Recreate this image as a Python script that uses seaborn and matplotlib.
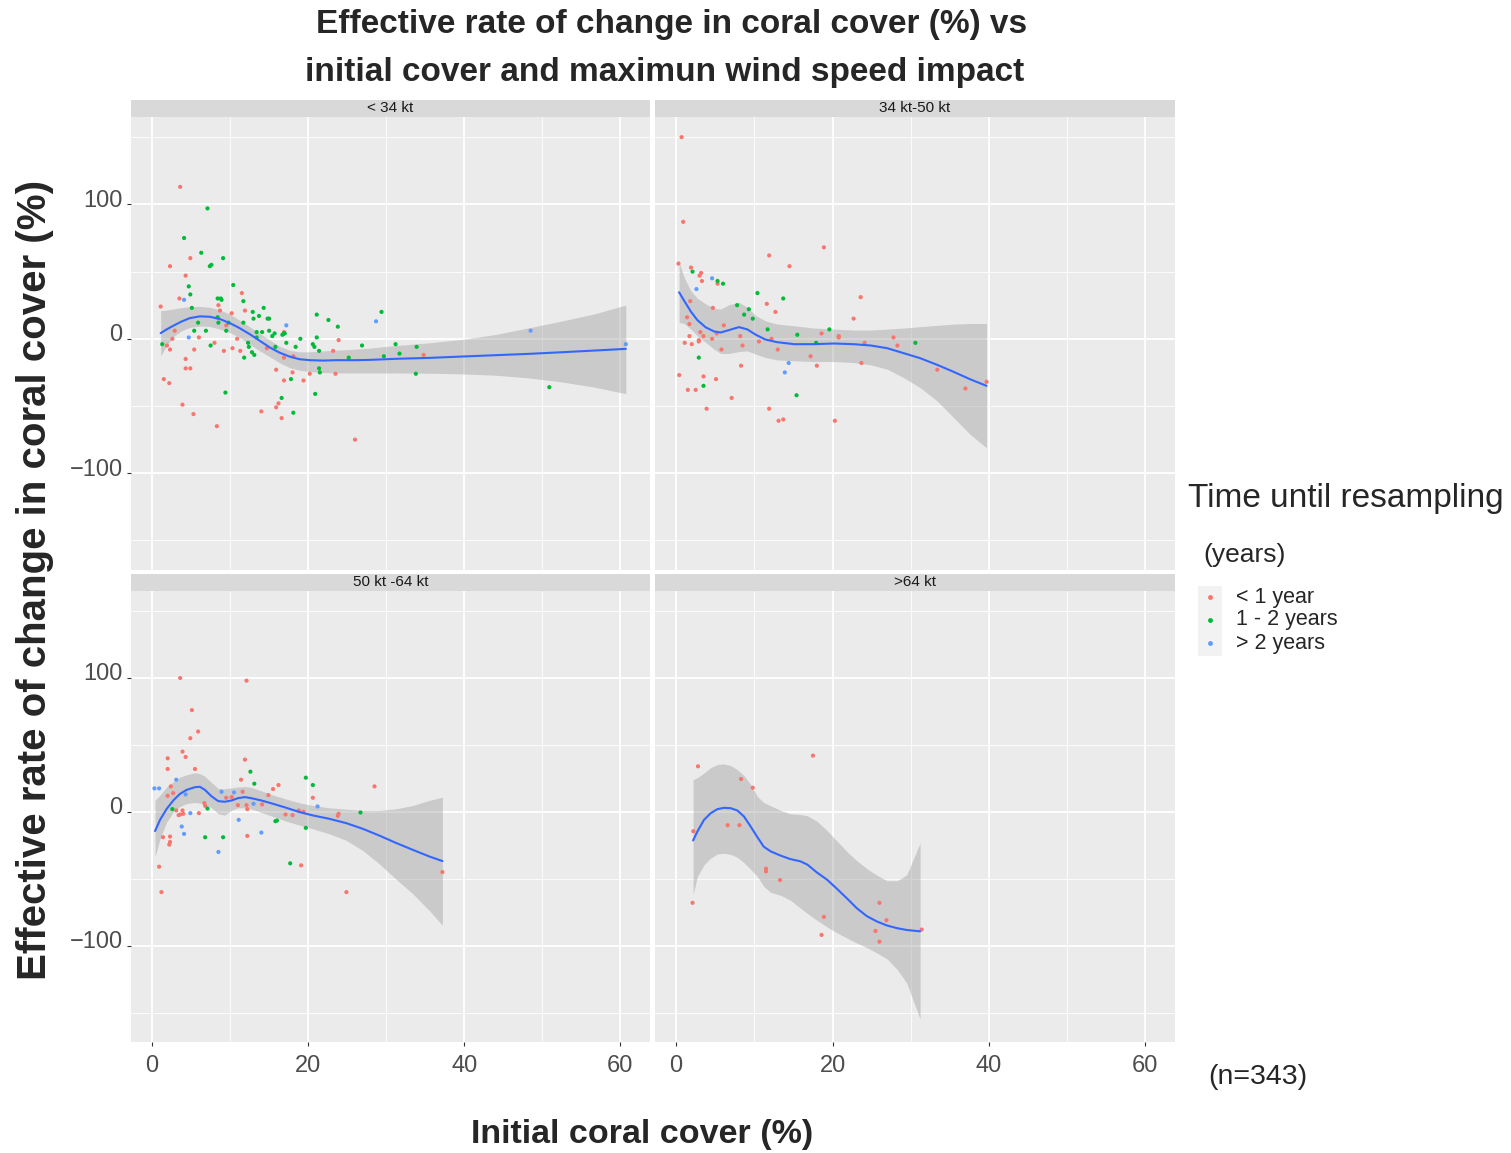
import numpy as np
import pandas as pd
import matplotlib
matplotlib.use("Agg")
import matplotlib.pyplot as plt
import matplotlib.transforms as mtransforms
import seaborn as sns
from matplotlib.lines import Line2D
from matplotlib.patches import Rectangle

W, H = 1511, 1153

# ---------------- data ----------------
PANELS = ["< 34 kt", "34 kt-50 kt", "50 kt -64 kt", ">64 kt"]
GROUPS = ["< 1 year", "1 - 2 years", "> 2 years"]
COLORS = ["#F8766D", "#00BA38", "#619CFF"]

# Panel < 34 kt
a_lt1_x = [3.6, 2.3, 4.9, 4.3, 3.5, 1.1, 2.9, 2.6, 1.9, 2.3, 1.5, 2.2, 3.9, 5.3, 4.3, 4.3, 4.9, 5.4, 6.0, 8.0,
           8.3, 8.5, 8.7, 9.2, 9.5, 10.2, 10.3, 10.9, 11.3, 11.5, 11.9, 14.0, 14.7, 15.9, 15.9, 16.2, 16.6, 16.9,
           16.9, 16.9, 18.0, 18.1, 19.4, 20.2, 23.9, 23.5, 26.0, 34.8, 23.2]
a_lt1_y = [113, 54, 60, 47, 30, 24, 6, 0, -5, -8, -30, -33, -49, -56, -15, -22, -22, -8, 1, -3,
           -65, 25, 21, -9, 10, 19, -7, 0, -9, 34, 21, -54, -7, -23, -51, -48, -59, -31,
           -14, 5, -25, -13, -31, -26, -1, -26, -75, -12, -9]
a_12_x = [7.1, 4.1, 6.3, 7.4, 7.6, 9.1, 4.7, 4.9, 5.1, 5.9, 5.4, 6.9, 7.5, 8.4, 8.8, 8.9, 8.4, 8.5, 9.5, 9.8,
          10.4, 11.7, 11.7, 12.9, 13.0, 13.7, 14.3, 14.8, 15.0, 13.4, 14.1, 15.0, 15.4, 15.7, 16.7, 16.9, 17.0,
          17.2, 13.4, 12.3, 12.4, 12.8, 13.1, 11.8, 9.4, 15.8, 16.6, 17.8, 18.1, 18.4, 19.0, 20.6, 20.8, 21.1,
          21.1, 21.4, 21.4, 21.5, 20.9, 22.6, 23.8, 25.2, 26.9, 29.4, 29.7, 31.2, 31.7, 33.9, 33.8, 50.9, 1.3]
a_12_y = [97, 75, 64, 54, 55, 60, 39, 33, 23, 12, 6, 6, -5, 30, 30, 29, 16, 12, 6, 12,
          40, 28, 12, 20, 15, 17, 23, 15, 15, 5, 5, 6, 2, 4, 3, 4, 4,
          -3, 1, -3, -6, -10, -12, -14, -40, -6, -44, -30, -55, -6, 0, -4, -6, 18,
          1, -9, -22, -25, -41, 14, 9, -14, -5, 20, -13, -4, -11, -6, -26, -36, -4]
a_gt2_x = [4.1, 4.7, 17.2, 28.7, 48.5, 60.7]
a_gt2_y = [29, 1, 10, 13, 6, -4]
a_fit_x = [1.1, 1.87, 2.72, 3.79, 4.85, 6.13, 7.4, 8.68, 9.96, 11.2, 12.5, 13.8, 15.1, 16.3, 17.6, 18.9,
           20.2, 21.9, 23.6, 26.1, 27.8, 31.2, 35.5, 39.7, 44.0, 48.3, 52.5, 56.8, 60.7]
a_fit_y = [4.2, 7, 9.7, 12.9, 15.4, 16.7, 16.4, 14.7, 11.7, 8, 3.5, -1.5, -6.5, -10.2, -13.2, -15.2,
           -15.9, -16.2, -15.9, -15.9, -15.7, -14.9, -14.2, -13.2, -12.2, -11.2, -10.0, -8.7, -7.5]
a_fit_hi = [20.9, 21.4, 22.2, 23.2, 23.9, 24.1, 23.4, 21.4, 18.4, 13.9, 9, 4, -1, -5.5, -8.5, -9.7,
            -9.7, -9, -8.5, -7.7, -7, -5.0, -3.0, -0.5, 3.2, 8.2, 13.2, 18.7, 25.1]
a_fit_lo = [-12.7, -5.2, 1.5, 6, 8.5, 9.5, 9.2, 7.2, 4.7, 1, -4, -9, -13.4, -17.7, -21.4, -23.4,
            -24.4, -25.1, -25.4, -25.4, -25.4, -25.4, -25.6, -26.1, -27.1, -29.1, -32.1, -36.1, -40.8]

# Panel 34 kt-50 kt
b_lt1_x = [0.7, 0.9, 0.3, 1.9, 3.2, 3.0, 3.3, 5.3, 1.8, 4.7, 1.4, 1.7, 3.1, 3.5, 5.2, 4.6, 6.1, 1.1, 1.7, 2.0,
           2.9, 2.9, 5.8, 0.4, 1.5, 2.5, 3.5, 5.1, 3.9, 7.1, 8.2, 8.5, 8.3, 11.9, 14.5, 11.6, 12.7, 13.0,
           11.9, 13.1, 13.7, 10.6, 12.2, 18.9, 18.6, 17.2, 18.0, 20.3, 20.8, 20.8, 22.7, 23.6, 24.1, 23.7,
           27.8, 28.3, 33.4, 37.0, 39.7]
b_lt1_y = [150, 87, 56, 53, 49, 47, 43, 41, 28, 23, 16, 11, 5, 2, 4, 0, 10, -3, 2, -4,
           -1, -2, -8, -27, -38, -38, -28, -30, -52, -44, 2, -5, -20, 62, 54, 26, 20, -8,
           -52, -61, -60, -2, 0, 68, 4, -13, -20, -61, 2, 1, 15, 31, -3, -18,
           1, -5, -23, -37, -32]
b_12_x = [2.1, 5.3, 6.0, 7.8, 8.7, 9.3, 9.8, 10.4, 13.7, 11.7, 15.5, 19.6, 17.9, 30.6, 2.9, 3.5, 15.4]
b_12_y = [50, 43, 41, 25, 18, 22, 15, 34, 30, 7, 3, 7, -3, -3, -14, -35, -42]
b_gt2_x = [2.6, 4.6, 14.4, 13.9]
b_gt2_y = [37, 45, -18, -25]
b_fit_x = [0.38, 1.02, 1.87, 2.72, 3.79, 4.85, 5.7, 6.77, 8.04, 9.1, 10.2, 11.4, 12.9, 15.1, 17.6, 20.2,
           22.7, 24.9, 27.0, 29.1, 31.2, 33.4, 35.5, 37.6, 39.7]
b_fit_y = [34.6, 28.4, 20.4, 13.9, 8.5, 5.5, 4.7, 6.5, 8.7, 7, 3, -0.5, -2.5, -4, -4, -3.5,
           -4, -5, -7, -10.7, -14.4, -19.4, -24.6, -30.1, -35]
b_fit_hi = [57, 45.8, 35.8, 30.1, 25.9, 22.6, 22.1, 25.4, 27.1, 23.4, 17.2, 13.4, 11, 9.7, 8, 7.2,
            6.5, 6.5, 7.2, 8, 9, 10, 10.9, 11.4, 11.4]
b_fit_lo = [12.2, 11.4, 7.2, 2.2, -2.7, -7.7, -10.9, -10.9, -9.5, -9, -11.4, -13.9, -15.7, -16.4, -16.9,
            -16.9, -17.7, -19.4, -22.6, -28.9, -36.3, -46.3, -58.7, -71.1, -81.1]

# Panel 50 kt -64 kt
c_lt1_x = [3.6, 12.1, 5.1, 5.9, 4.9, 3.9, 4.3, 2.0, 2.0, 5.5, 2.4, 2.7, 2.0, 3.1, 3.4, 3.6, 3.9, 4.0, 6.0,
           6.7, 6.8, 1.4, 2.3, 2.3, 2.2, 0.9, 1.2, 11.9, 11.4, 11.6, 9.5, 10.2, 11.0, 12.1, 12.2, 12.2,
           14.1, 14.9, 15.5, 16.2, 17.1, 18.0, 18.8, 19.4, 20.6, 23.9, 23.8, 28.5, 24.9, 19.1, 37.2]
c_lt1_y = [100, 98, 76, 60, 55, 45, 41, 40, 32, 32, 19, 14, 12, 1, -2.5, -2, 1, -1.5, -1,
           6.5, 4.5, -19, -18.5, -22.5, -24.5, -41, -60, 39, 24, 15, 10.5, 11, 5, 5, 2, -18,
           5.5, 12.5, 17, 20, -2, -2.5, 1, 0, 10.5, -1.5, -3, 19, -60, -40, -45]
c_12_x = [2.6, 7.1, 6.8, 9.1, 12.6, 13.1, 15.8, 16.0, 19.7, 20.6, 19.7, 17.7, 26.7]
c_12_y = [2, 2.5, -19, -19, 30, 21, -7, -6.5, 25.5, 20, -12, -38.5, -0.5]
c_gt2_x = [0.3, 0.9, 3.1, 4.3, 4.9, 3.8, 4.1, 8.9, 10.5, 11.1, 13.0, 14.0, 8.5, 21.2]
c_gt2_y = [17.5, 17.5, 24, 13, -1, -11, -16.5, 15, 14.5, -6, 6, -15.5, -30, 4]
c_fit_x = [0.38, 1.02, 1.87, 2.72, 3.57, 4.43, 5.49, 6.13, 6.77, 7.6, 8.47, 9.3, 10.2, 11.0, 11.9, 12.7,
           14.0, 15.5, 17.2, 18.9, 20.6, 22.7, 24.9, 27.0, 29.1, 31.2, 33.4, 35.5, 37.2]
c_fit_y = [-14.4, -6, 2.2, 8.5, 13.4, 16.4, 18.4, 18.7, 16.4, 11.7, 8, 7.5, 8.5, 10.2, 11, 10.2,
           8.5, 6, 3, -0.2, -2.7, -5.2, -8.5, -12.7, -17.7, -23.1, -28.4, -33.3, -36.8]
c_fit_hi = [8.5, 12.5, 18.5, 22.5, 25.9, 27.7, 29.2, 28.5, 26.5, 22, 17.5, 17.2, 17.9, 18.5, 18.9, 18.2,
            15.7, 12.5, 9.5, 6.7, 4.7, 3, 2, 1, 1, 2.2, 4.7, 8.5, 10.9]
c_fit_lo = [-33.8, -20, -7.7, -0.2, 4, 6.2, 7, 6.5, 5.8, 3.2, -1.5, -2.5, 1.2, 3, 3, 2.2,
            -0.5, -3.5, -7, -10, -12.7, -16.4, -21.4, -28.9, -38.8, -50, -61.2, -73.6, -84.8]

# Panel >64 kt
d_lt1_x = [2.8, 2.2, 2.1, 6.6, 8.1, 8.3, 9.8, 11.5, 11.5, 13.3, 17.5, 18.9, 18.6, 25.5, 26.0, 26.0, 26.9, 31.4]
d_lt1_y = [34, -14.5, -68, -10, -10, 24.5, 18, -42.5, -44.5, -51, 42, -78.5, -92, -89, -68, -97, -81, -88]
d_fit_x = [2.17, 2.72, 3.57, 4.43, 5.28, 6.13, 6.98, 7.83, 8.68, 9.53, 10.4, 11.2, 12.1, 13.4, 14.6, 15.9,
           16.8, 18.0, 19.3, 20.6, 21.9, 23.1, 24.4, 25.7, 27.0, 28.3, 29.5, 31.2]
d_fit_y = [-21.4, -14.7, -6, -1, 2, 3, 2.7, 1, -3.5, -11, -19, -26, -29.6, -32.8, -35.3, -37,
           -39.5, -45.3, -50.7, -57.7, -65, -72, -78, -82, -85, -87, -88.3, -89.3]
d_fit_hi = [24, 25.5, 29, 33, 35.4, 35.8, 34.5, 31.5, 27, 20.5, 11.4, 7, 4.5, 1, -1.5, -2,
            -3, -7, -14, -22, -30, -36.5, -42.5, -47.5, -51.5, -51.5, -47, -23.4]
d_fit_lo = [-62, -48.3, -39.6, -34.5, -31.5, -31, -31.8, -34, -38, -43, -48.3, -55.7, -60.2, -62.5, -66,
            -72, -76, -81, -86, -90.5, -94.5, -98, -101.5, -105.5, -110, -118, -128, -155]

X_TICKS = [0, 20, 40, 60]
Y_TICKS = [-100, 0, 100]
TITLE_1 = "Effective rate of change in coral cover (%) vs"
TITLE_2 = "initial cover and maximun wind speed impact"
X_LABEL = "Initial coral cover (%)"
Y_LABEL = "Effective rate of change in coral cover (%)"
LEGEND_TITLE_1 = "Time until resampling"
LEGEND_TITLE_2 = "(years)"
N_NOTE = "(n=343)"

# ---------------- assemble tables ----------------
def make_points(pairs):
    frames = []
    for g, (xs, ys) in zip(GROUPS, pairs):
        if xs:
            frames.append(pd.DataFrame({"x": xs, "y": ys, "group": g}))
    return pd.concat(frames, ignore_index=True)

points = [
    make_points([(a_lt1_x, a_lt1_y), (a_12_x, a_12_y), (a_gt2_x, a_gt2_y)]),
    make_points([(b_lt1_x, b_lt1_y), (b_12_x, b_12_y), (b_gt2_x, b_gt2_y)]),
    make_points([(c_lt1_x, c_lt1_y), (c_12_x, c_12_y), (c_gt2_x, c_gt2_y)]),
    make_points([(d_lt1_x, d_lt1_y), ([], []), ([], [])]),
]
fits = [
    pd.DataFrame({"x": a_fit_x, "fit": a_fit_y, "lo": a_fit_lo, "hi": a_fit_hi}),
    pd.DataFrame({"x": b_fit_x, "fit": b_fit_y, "lo": b_fit_lo, "hi": b_fit_hi}),
    pd.DataFrame({"x": c_fit_x, "fit": c_fit_y, "lo": c_fit_lo, "hi": c_fit_hi}),
    pd.DataFrame({"x": d_fit_x, "fit": d_fit_y, "lo": d_fit_lo, "hi": d_fit_hi}),
]

# ---------------- figure ----------------
sns.set_theme(style="white")
plt.rcParams['font.family'] = ['Liberation Sans', 'DejaVu Sans']
fig = plt.figure(figsize=(W / 100, H / 100), dpi=100)
fig.patch.set_facecolor("white")

def rect(l, t, r, b):
    return [l / W, 1 - b / H, (r - l) / W, (b - t) / H]

plot_boxes = [(131, 117, 650, 570), (655, 117, 1175, 570),
              (131, 591, 650, 1042), (655, 591, 1175, 1042)]
strip_boxes = [(131, 100, 650, 117), (655, 100, 1175, 117),
               (131, 574, 650, 591), (655, 574, 1175, 591)]

palette = dict(zip(GROUPS, COLORS))
ylab_offset = mtransforms.ScaledTranslation(0, 6 / 100, fig.dpi_scale_trans)
for i in range(4):
    ax = fig.add_axes(rect(*plot_boxes[i]))
    ax.set_facecolor("#EBEBEB")
    ax.set_xlim(-2.7, 63.8)
    ax.set_ylim(-172, 165)
    for xv in [10, 30, 50]:
        ax.axvline(xv, color="white", lw=0.6, zorder=0)
    for yv in [-150, -50, 50, 150]:
        ax.axhline(yv, color="white", lw=0.6, zorder=0)
    for xv in X_TICKS:
        ax.axvline(xv, color="white", lw=1.3, zorder=0)
    for yv in Y_TICKS:
        ax.axhline(yv, color="white", lw=1.3, zorder=0)
    for s in ax.spines.values():
        s.set_visible(False)

    fd = fits[i]
    ax.fill_between(fd["x"], fd["lo"], fd["hi"], color="#999999", alpha=0.4, lw=0, zorder=1)
    sns.scatterplot(data=points[i], x="x", y="y", hue="group", hue_order=GROUPS,
                    palette=palette, s=9, linewidth=0, legend=False, ax=ax, zorder=2)
    sns.lineplot(data=fd, x="x", y="fit", color="#3366FF", lw=1.5, sort=False,
                 estimator=None, ax=ax, zorder=3)

    ax.set_xlabel("")
    ax.set_ylabel("")
    ax.set_xticks(X_TICKS)
    ax.set_yticks(Y_TICKS)
    ax.tick_params(axis="both", which="both", length=3, width=0.8, color="#333333",
                   labelcolor="#4D4D4D", labelsize=17, pad=3)
    if i in (0, 2):
        ax.tick_params(axis="y", left=True, labelleft=True)
        for lab in ax.get_yticklabels():
            lab.set_transform(lab.get_transform() + ylab_offset)
    else:
        ax.tick_params(axis="y", left=False, labelleft=False)
    if i in (2, 3):
        ax.tick_params(axis="x", bottom=True, labelbottom=True, pad=6)
    else:
        ax.tick_params(axis="x", bottom=False, labelbottom=False)

    sax = fig.add_axes(rect(*strip_boxes[i]))
    sax.set_facecolor("#D9D9D9")
    sax.set_xticks([])
    sax.set_yticks([])
    for s in sax.spines.values():
        s.set_visible(False)
    sax.text(0.5, 0.5, PANELS[i], ha="center", va="center", fontsize=11, color="#1A1A1A",
             transform=sax.transAxes)

def fx(x):
    return x / W

def fy(y):
    return 1 - y / H

fig.text(fx(672), fy(25), TITLE_1, ha="center", va="center", fontsize=24, fontweight="bold")
fig.text(fx(665), fy(72), TITLE_2, ha="center", va="center", fontsize=24, fontweight="bold")
fig.text(fx(642), fy(1135), X_LABEL, ha="center", va="center", fontsize=24.5, fontweight="bold")
fig.text(fx(35), fy(580), Y_LABEL, ha="center", va="center", rotation=90, fontsize=29,
         fontweight="bold")

# legend
fig.text(fx(1188), fy(498), LEGEND_TITLE_1, ha="left", va="center", fontsize=24)
fig.text(fx(1203), fy(555), LEGEND_TITLE_2, ha="left", va="center", fontsize=19)
fig.add_artist(Rectangle((fx(1198), fy(656)), (1222 - 1198) / W, (656 - 586) / H,
                         transform=fig.transFigure, facecolor="#F2F2F2", edgecolor="none"))
for k, (g, c) in enumerate(zip(GROUPS, COLORS)):
    yy = 597 + 23 * k
    fig.add_artist(Line2D([fx(1210)], [fy(yy)], transform=fig.transFigure, marker="o",
                          markersize=3.5, markerfacecolor=c, markeredgewidth=0, linestyle="none"))
    fig.text(fx(1236), fy(yy), g, ha="left", va="center", fontsize=15.5)

fig.text(fx(1208), fy(1077), N_NOTE, ha="left", va="center", fontsize=20.5)

fig.savefig("out.png", dpi=100)
